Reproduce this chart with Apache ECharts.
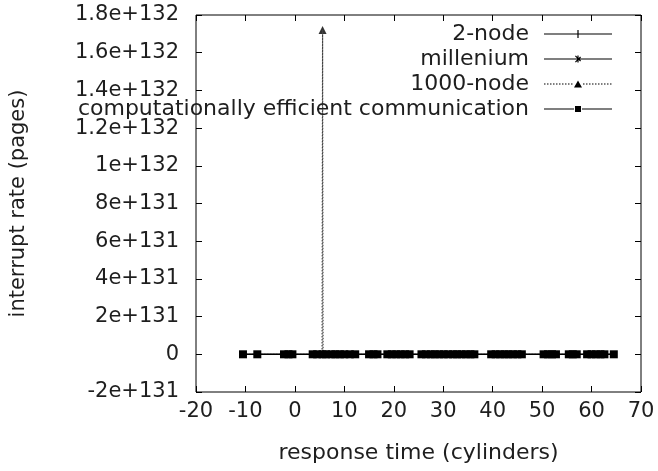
<!DOCTYPE html>
<html>
<head>
<meta charset="utf-8">
<script src="https://cdn.jsdelivr.net/npm/echarts@6/dist/echarts.min.js"></script>
<style>
html,body{margin:0;padding:0;background:#fff;}
#chart{width:658px;height:471px;}
</style>
</head>
<body>
<div id="chart"></div>
<script>
// ---- data ----
const seriesNames = ['2-node', 'millenium', '1000-node', 'computationally efficient communication'];

const twoNodeX = [-10.5, 0.9, 13.5, 24.4, 38.0, 48.0, 58.0, 64.5];
const twoNodeY = [0, 0, 0, 0, 0, 0, 0, 0];

const milleniumX = [-10.5, 1.5, 13.8, 24.0, 37.6, 48.5, 57.9, 64.5];
const milleniumY = [0, 0, 0, 0, 0, 0, 0, 0];

const node1000X = [-10.5, -7.6, -5.0, -2.2, 1.5, 5.5, 5.6, 5.7, 9.0, 14.0, 20.0, 30.0, 40.0, 50.0, 60.0, 64.5];
const node1000Y = [0, 0, 0, 0, 0, 0, 1.72e132, 0, 0, 0, 0, 0, 0, 0, 0, 0];

const commX = [-10.5, -7.6, -2.2, -1.3, -0.5, 3.6, 4.5, 5.6, 6.3, 7.4, 8.2, 9.1, 10.0, 11.1, 12.2,
  15.0, 15.9, 16.7, 18.7, 19.6, 20.5, 21.4, 22.3, 23.2, 25.6, 26.5, 27.5, 28.3, 29.2, 30.1, 31.0,
  32.0, 32.8, 33.7, 34.6, 35.5, 36.3, 39.7, 40.6, 41.5, 42.4, 43.2, 44.1, 45.0, 45.9, 50.3, 51.2,
  52.0, 52.8, 55.4, 56.2, 57.0, 59.1, 60.0, 60.9, 61.8, 62.6, 64.5];
const commY = [0, 0, 0, 0, 0, 0, 0, 0, 0, 0, 0, 0, 0, 0, 0,
  0, 0, 0, 0, 0, 0, 0, 0, 0, 0, 0, 0, 0, 0, 0, 0,
  0, 0, 0, 0, 0, 0, 0, 0, 0, 0, 0, 0, 0, 0, 0, 0,
  0, 0, 0, 0, 0, 0, 0, 0, 0, 0, 0];

const xMin = -20, xMax = 70, xInterval = 10;
const yMin = -2e131, yMax = 1.8e132, yInterval = 2e131;
const yTickLabels = ['-2e+131', '0', '2e+131', '4e+131', '6e+131', '8e+131', '1e+132',
  '1.2e+132', '1.4e+132', '1.6e+132', '1.8e+132'];

const xTitle = 'response time (cylinders)';
const yTitle = 'interrupt rate (pages)';

// ---- helpers ----
function pairs(xs, ys) { return xs.map((x, i) => [x, ys[i]]); }

const FONT = '"DejaVu Sans", sans-serif';
const TXT = '#1e1e1e';

// legend icons (68 x 8 box)
const lineL = 'M0,3.4h30v1.2h-30z';
const lineR = 'M38,3.4h30v1.2h-30z';
const lineM = 'M30,3.4h8v1.2h-8z';
const iconTwo = 'path://' + lineL + lineM + lineR + 'M33.4,0h1.2v8h-1.2z';
const iconMill = 'path://' + lineL + lineM + lineR + 'M33.4,0.5h1.2v7h-1.2z M30.5,3.4h7v1.2h-7z M31,1.2l0.8,-0.8l5.2,5.2l-0.8,0.8z M31,6.8l5.2,-5.2l0.8,0.8l-5.2,5.2z M34,0h0.01v0.01h-0.01z M34,7.99h0.01v0.01h-0.01z';
let dots = '';
for (let k = 0; k < 68; k += 3) { if (k < 30 || k > 37) dots += 'M' + k + ',3.5h1.5v1h-1.5z'; }
const icon1000 = 'path://' + dots + 'M30,7.5L34,0.5L38,7.5z M0,0h0.01v0.01h-0.01z M67.99,7.99h0.01v0.01h-0.01z';
const iconComm = 'path://' + lineL + lineR + 'M31,1h6v6h-6z M32.3,5.7v-3.4h3.4v3.4z M34,0h0.01v0.01h-0.01z M34,7.99h0.01v0.01h-0.01z';

const chart = echarts.init(document.getElementById('chart'), null, { renderer: 'canvas' });

const tickStyle = { show: true, inside: true, length: 6, lineStyle: { color: '#000', width: 1 } };

const option = {
  animation: false,
  backgroundColor: '#fff',
  textStyle: { fontFamily: FONT },
  grid: { left: 195, right: 17, top: 15, bottom: 79, show: true, borderColor: '#000', borderWidth: 1, backgroundColor: 'transparent' },
  legend: {
    orient: 'vertical',
    right: 46,
    top: 23,
    padding: 0,
    align: 'right',
    itemWidth: 68,
    itemHeight: 8,
    itemGap: 3,
    textStyle: { fontSize: 22, lineHeight: 22, color: TXT, fontFamily: FONT, padding: [0, 10, 0, 0] },
    itemStyle: { borderWidth: 0 },
    data: [
      { name: seriesNames[0], icon: iconTwo },
      { name: seriesNames[1], icon: iconMill },
      { name: seriesNames[2], icon: icon1000 },
      { name: seriesNames[3], icon: iconComm }
    ]
  },
  xAxis: [{
    type: 'value', min: xMin, max: xMax, interval: xInterval,
    name: xTitle, nameLocation: 'middle', nameGap: 50,
    nameTextStyle: { fontSize: 22, color: TXT, fontFamily: FONT },
    axisLine: { show: false, onZero: false },
    axisTick: tickStyle,
    axisLabel: { fontSize: 21, color: TXT, margin: 9, fontFamily: FONT },
    splitLine: { show: false }
  }, {
    type: 'value', min: xMin, max: xMax, interval: xInterval, position: 'top',
    axisLine: { show: false, onZero: false },
    axisTick: tickStyle,
    axisLabel: { show: false }, splitLine: { show: false }
  }],
  yAxis: [{
    type: 'value', min: yMin, max: yMax, interval: yInterval,
    name: yTitle, nameLocation: 'middle', nameGap: 167, nameRotate: 90,
    nameTextStyle: { fontSize: 21, color: TXT, fontFamily: FONT },
    axisLine: { show: false, onZero: false },
    axisTick: tickStyle,
    axisLabel: {
      fontSize: 21, color: TXT, margin: 17, fontFamily: FONT,
      formatter: function (v) { return yTickLabels[Math.round((v - yMin) / yInterval)]; }
    },
    splitLine: { show: false }
  }, {
    type: 'value', min: yMin, max: yMax, interval: yInterval, position: 'right',
    axisLine: { show: false, onZero: false },
    axisTick: tickStyle,
    axisLabel: { show: false }, splitLine: { show: false }
  }],
  series: [
    {
      name: seriesNames[0], type: 'line', data: pairs(twoNodeX, twoNodeY),
      color: '#000', symbol: 'none', lineStyle: { color: '#000', width: 1.2 }
    },
    {
      name: seriesNames[1], type: 'line', data: pairs(milleniumX, milleniumY),
      color: '#000', symbol: 'none', lineStyle: { color: '#000', width: 1.2 }
    },
    {
      name: seriesNames[2], type: 'line', data: pairs(node1000X, node1000Y),
      color: '#000', lineStyle: { color: '#444', width: 1.2, type: [1.5, 1.5] },
      symbol: 'none'
    },
    {
      name: seriesNames[3], type: 'line', data: pairs(commX, commY),
      color: '#000', symbol: 'rect', symbolSize: 8, showAllSymbol: true,
      itemStyle: { color: '#000', borderWidth: 0 },
      lineStyle: { color: '#000', width: 1.2 }
    },
    {
      name: 'spike-marker', type: 'scatter',
      data: pairs([node1000X[6]], [node1000Y[6]]),
      symbol: 'triangle', symbolSize: 8, itemStyle: { color: '#000' }, silent: true
    }
  ]
};
chart.setOption(option);
</script>
</body>
</html>
